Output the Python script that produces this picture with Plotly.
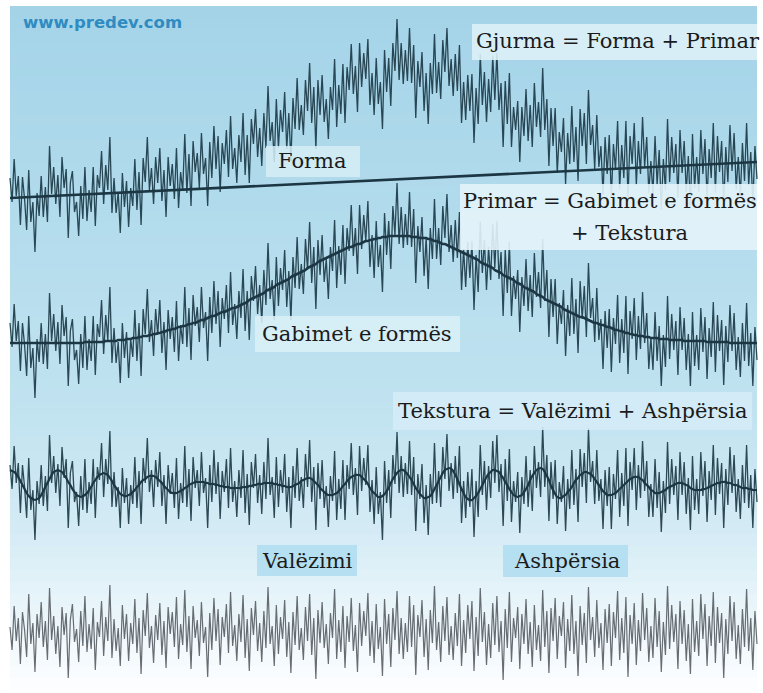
import plotly.graph_objects as go

W, H = 763, 693

# ---------------- data (pixel-like units, up = positive) ----------------
N = 360
sample = list(range(N))

# Forma: slow straight trend of the whole profile
form = [
    0, 0, 0, 0, 0, 1, 1, 1, 1, 1,   1, 1, 1, 1, 1, 2, 2, 2, 2, 2,
    2, 2, 2, 2, 2, 3, 3, 3, 3, 3,   3, 3, 3, 3, 3, 4, 4, 4, 4, 4,
    4, 4, 4, 4, 4, 5, 5, 5, 5, 5,   5, 5, 5, 5, 5, 6, 6, 6, 6, 6,
    6, 6, 6, 6, 6, 7, 7, 7, 7, 7,   7, 7, 7, 7, 7, 8, 8, 8, 8, 8,
    8, 8, 8, 8, 8, 9, 9, 9, 9, 9,   9, 9, 9, 9, 9, 10, 10, 10, 10, 10,
    10, 10, 10, 10, 10, 11, 11, 11, 11, 11,   11, 11, 11, 11, 11, 12, 12, 12, 12, 12,
    12, 12, 12, 12, 12, 13, 13, 13, 13, 13,   13, 13, 13, 13, 13, 14, 14, 14, 14, 14,
    14, 14, 14, 14, 14, 15, 15, 15, 15, 15,   15, 15, 15, 15, 15, 16, 16, 16, 16, 16,
    16, 16, 16, 16, 16, 17, 17, 17, 17, 17,   17, 17, 17, 17, 17, 18, 18, 18, 18, 18,
    18, 18, 18, 18, 18, 19, 19, 19, 19, 19,   19, 19, 19, 19, 19, 20, 20, 20, 20, 20,
    20, 20, 20, 20, 20, 21, 21, 21, 21, 21,   21, 21, 21, 21, 21, 22, 22, 22, 22, 22,
    22, 22, 22, 22, 22, 23, 23, 23, 23, 23,   23, 23, 23, 23, 23, 24, 24, 24, 24, 24,
    24, 24, 24, 24, 24, 25, 25, 25, 25, 25,   25, 25, 25, 25, 25, 26, 26, 26, 26, 26,
    26, 26, 26, 26, 26, 27, 27, 27, 27, 27,   27, 27, 27, 27, 27, 28, 28, 28, 28, 28,
    28, 28, 28, 28, 28, 29, 29, 29, 29, 29,   29, 29, 29, 29, 29, 30, 30, 30, 30, 30,
    30, 30, 30, 30, 30, 31, 31, 31, 31, 31,   31, 31, 31, 31, 31, 32, 32, 32, 32, 32,
    32, 32, 32, 32, 32, 33, 33, 33, 33, 33,   33, 33, 33, 33, 33, 34, 34, 34, 34, 34,
    34, 34, 34, 34, 34, 35, 35, 35, 35, 35,   35, 35, 35, 35, 35, 36, 36, 36, 36, 36,
]

# Gabimet e formës: broad hump
form_error = [
    0, 0, 0, 0, 0, 0, 0, 0, 0, 0,
    0, 0, 0, 0, 0, 0, 0, 0, 0, 0,
    0, 0, 0, 0, 0, 0, 0, 0, 0, 0,
    0, 0, 0, 0, 0, 0, 1, 1, 1, 1,
    1, 1, 1, 1, 1, 1, 2, 2, 2, 2,
    2, 2, 3, 3, 3, 3, 4, 4, 4, 5,
    5, 5, 6, 6, 7, 7, 7, 8, 8, 9,
    9, 10, 10, 11, 11, 12, 13, 13, 14, 14,
    15, 16, 16, 17, 17, 18, 19, 19, 20, 20,
    21, 22, 23, 23, 24, 25, 26, 27, 27, 28,
    29, 30, 31, 31, 32, 33, 34, 35, 35, 36,
    37, 38, 39, 40, 41, 43, 44, 45, 46, 47,
    48, 49, 50, 52, 53, 54, 55, 56, 58, 59,
    60, 61, 62, 63, 64, 66, 67, 68, 69, 70,
    71, 72, 73, 75, 76, 77, 78, 79, 81, 82,
    83, 84, 85, 86, 87, 88, 89, 90, 91, 92,
    93, 94, 95, 96, 96, 97, 98, 99, 99, 100,
    101, 102, 102, 103, 103, 104, 104, 105, 105, 106,
    106, 106, 107, 107, 107, 107, 107, 107, 107, 107,
    107, 107, 107, 106, 106, 106, 106, 105, 105, 105,
    105, 104, 104, 103, 102, 102, 101, 100, 99, 99,
    98, 97, 96, 95, 94, 93, 92, 91, 90, 89,
    88, 87, 86, 85, 84, 83, 81, 80, 79, 78,
    77, 76, 75, 73, 72, 71, 70, 68, 67, 66,
    65, 64, 63, 61, 60, 59, 58, 56, 55, 54,
    53, 52, 51, 49, 48, 47, 46, 44, 43, 42,
    41, 40, 39, 38, 37, 36, 34, 33, 32, 31,
    30, 29, 28, 27, 26, 26, 25, 24, 23, 22,
    21, 20, 20, 19, 18, 18, 17, 16, 16, 15,
    14, 13, 13, 12, 12, 11, 10, 10, 9, 9,
    8, 8, 7, 7, 7, 6, 6, 6, 5, 5,
    5, 5, 4, 4, 4, 4, 4, 3, 3, 3,
    3, 3, 3, 3, 2, 2, 2, 2, 2, 2,
    2, 2, 2, 2, 2, 1, 1, 1, 1, 1,
    1, 1, 1, 1, 1, 1, 0, 0, 0, 0,
    0, 0, 0, 0, 0, 0, 0, 0, 0, 0,
]

# Valëzimi: waviness
waviness = [
    15, 14, 13, 11, 8, 4, 0, -4, -8, -11, -13, -14, -15,
    -14, -13, -10, -6, -2, 2, 6, 10, 13, 14, 15,
    14, 13, 10, 7, 3, 0, -4, -7, -10, -11, -12,
    -11, -10, -8, -5, -2, 2, 5, 8, 10, 11, 12,
    11, 10, 7, 4, 0, -3, -6, -9, -10, -11,
    -11, -10, -9, -7, -5, -2, 0, 3, 5, 6, 8, 9, 9,
    9, 8, 6, 4, 2, -1, -3, -5, -7, -8, -8,
    -8, -7, -6, -5, -3, -2, 0, 1, 2, 3, 3,
    3, 3, 3, 2, 2, 1, 1, 1, 0, 0, -1, -1, -2, -2, -2, -3, -3, -3,
    -3, -3, -3, -2, -2, -2, -1, -1, 0, 0, 1, 1, 1, 2, 2, 2,
    2, 2, 1, 1, 0, 0, -1, -1, -2, -2,
    -2, -1, 0, 1, 2, 4, 5, 6, 7,
    7, 6, 4, 2, 0, -3, -5, -7, -9, -10, -10,
    -10, -9, -8, -6, -4, -1, 1, 4, 6, 8, 9, 10, 10,
    10, 8, 6, 4, 1, -3, -6, -8, -10, -12, -12,
    -11, -9, -6, -3, 2, 6, 9, 12, 14, 15,
    15, 13, 11, 8, 5, 1, -3, -6, -9, -11, -13, -13,
    -12, -11, -8, -4, 0, 4, 8, 12, 15, 16, 17,
    16, 14, 10, 6, 1, -4, -8, -12, -14, -15,
    -15, -13, -11, -8, -4, 0, 4, 8, 11, 13, 15, 15,
    14, 13, 10, 7, 3, 0, -4, -7, -10, -11, -12,
    -11, -10, -7, -4, 0, 5, 9, 12, 15, 16, 17,
    16, 13, 9, 5, -1, -5, -9, -12, -13,
    -13, -11, -10, -7, -5, -2, 2, 5, 7, 10, 11, 13, 13,
    12, 11, 9, 6, 3, 0, -3, -6, -8, -10, -10,
    -10, -9, -8, -6, -4, -2, 0, 2, 4, 6, 7, 8, 8,
    8, 6, 5, 2, 0, -2, -5, -6, -8, -8,
    -8, -7, -6, -5, -3, -2, -1, 0, 1, 2, 2,
    2, 1, 0, -1, -3, -4, -5, -5,
    -5, -5, -4, -4, -3, -2, -1, 0, 1, 2, 2, 3, 3,
    3, 2, 2, 1, 0, 0, -1, -2, -3, -3,
    -3, -4, -4, -5, -5, -5,
]

# Ashpërsia: roughness
roughness = [
    5, -18, 26, -9, 14, -32, 20, 2, -25, 38,
    -12, 9, -40, 18, -6, 30, -15, 11, -28, 44,
    -8, 16, -22, 6, -35, 25, -3, 19, -46, 12,
    28, -10, 3, -30, 21, -14, 36, -20, 8, -17,
    24, -38, 10, -5, 31, -24, 15, -9, 47, -26,
    13, -19, 4, -34, 27, -7, 18, -29, 9, -12,
    33, -21, 14, -42, 22, -4, 39, -16, 6, -31,
    17, -8, 29, -23, 11, -36, 25, -2, 20, -15,
    35, -27, 8, -13, 42, -20, 16, -37, 26, -6,
    12, -24, 30, -11, 5, -45, 19, -18, 34, -9,
    23, -33, 15, -5, 28, -21, 40, -14, 7, -29,
    18, -10, 37, -26, 13, -39, 24, -3, 31, -19,
    9, -30, 21, -16, 45, -12, 6, -34, 27, -22,
    15, -7, 32, -25, 10, -41, 20, -13, 36, -18,
    4, -28, 25, -9, 38, -23, 14, -47, 22, -11,
    30, -16, 8, -32, 19, -6, 43, -27, 12, -20,
    26, -36, 16, -10, 34, -19, 7, -40, 29, -14,
    21, -4, 39, -24, 11, -31, 28, -17, 5, -44,
    33, -12, 18, -35, 24, -8, 41, -22, 14, -27,
    9, -20, 36, -15, 27, -43, 17, -5, 32, -25,
    13, -38, 22, -11, 46, -18, 10, -30, 26, -9,
    35, -23, 6, -28, 19, -14, 38, -34, 12, -21,
    27, -7, 31, -39, 15, -24, 44, -10, 20, -33,
    8, -26, 29, -13, 36, -20, 11, -48, 23, -16,
    40, -30, 14, -6, 25, -37, 18, -12, 33, -22,
    10, -35, 27, -18, 7, -29, 42, -15, 21, -41,
    24, -9, 34, -27, 16, -4, 30, -36, 13, -19,
    37, -22, 11, -44, 26, -13, 19, -31, 45, -8,
    15, -25, 32, -16, 9, -38, 23, -11, 28, -34,
    20, -6, 41, -28, 14, -21, 35, -45, 17, -12,
    29, -33, 12, -19, 39, -8, 24, -30, 6, -26,
    34, -15, 21, -40, 10, -23, 46, -17, 27, -10,
    18, -37, 31, -12, 22, -29, 8, -42, 33, -20,
    11, -24, 38, -7, 28, -34, 16, -14, 40, -31,
    25, -11, 19, -46, 13, -22, 36, -9, 30, -27,
    7, -32, 23, -15, 43, -19, 14, -38, 21, -12,
]

labels = {
    "total": "Gjurma = Forma + Primar",
    "form": "Forma",
    "primary_1": "Primar = Gabimet e formës",
    "primary_2": "+ Tekstura",
    "form_error": "Gabimet e formës",
    "texture": "Tekstura = Valëzimi + Ashpërsia",
    "waviness": "Valëzimi",
    "roughness": "Ashpërsia",
}
watermark = "www.predev.com"

lens = (len(form), len(form_error), len(waviness), len(roughness))
assert all(n == N for n in lens), lens

# composition of the profile
texture = [w + r for w, r in zip(waviness, roughness)]
primary = [fe + t for fe, t in zip(form_error, texture)]
total = [f + p for f, p in zip(form, primary)]

# ---------------- figure ----------------
NOISE = "rgba(26,54,68,0.9)"
NOISE_GREY = "rgba(78,84,90,0.85)"
SMOOTH = "#1c3644"
NW = 1.3

fig = go.Figure()
fig.add_trace(go.Scatter(x=sample, y=total, mode="lines", yaxis="y",
                         line=dict(color=NOISE, width=NW)))
fig.add_trace(go.Scatter(x=[sample[0], sample[-1]], y=[form[0], form[-1]], mode="lines",
                         yaxis="y", line=dict(color=SMOOTH, width=2.6)))
fig.add_trace(go.Scatter(x=sample, y=primary, mode="lines", yaxis="y2",
                         line=dict(color=NOISE, width=NW)))
fig.add_trace(go.Scatter(x=sample, y=form_error, mode="lines", yaxis="y2",
                         line=dict(color=SMOOTH, width=2.6, shape="spline")))
fig.add_trace(go.Scatter(x=sample, y=texture, mode="lines", yaxis="y3",
                         line=dict(color=NOISE, width=NW)))
fig.add_trace(go.Scatter(x=sample, y=waviness, mode="lines", yaxis="y3",
                         line=dict(color=SMOOTH, width=2.2, shape="spline")))
fig.add_trace(go.Scatter(x=sample, y=roughness, mode="lines", yaxis="y4",
                         line=dict(color=NOISE_GREY, width=1.2)))

# row baselines in pixels from top
row_base = [198, 343, 485, 632]


def yax(base, overlay=None):
    d = dict(range=[base - H, base], visible=False, fixedrange=True, domain=[0, 1])
    if overlay:
        d["overlaying"] = overlay
    return d


# gradient background (decoration)
stops = [(6, (164, 211, 232)), (200, (177, 219, 236)), (420, (194, 227, 240)),
         (530, (212, 235, 245)), (610, (234, 245, 250)), (693, (253, 254, 255))]


def col_at(py):
    for (p0, c0), (p1, c1) in zip(stops[:-1], stops[1:]):
        if p0 <= py <= p1:
            t = (py - p0) / (p1 - p0)
            return "rgb(%d,%d,%d)" % tuple(round(a + (b - a) * t) for a, b in zip(c0, c1))
    return "rgb(%d,%d,%d)" % stops[-1][1]


shapes = []
band = 12
py = 6
while py < H:
    shapes.append(dict(type="rect", xref="paper", yref="paper", layer="below",
                       x0=10 / W, x1=757 / W, y0=1 - min(py + band + 1, H) / H, y1=1 - py / H,
                       line=dict(width=0), fillcolor=col_at(py + band / 2)))
    py += band


def box(x0, y0, x1, y1, fill):
    shapes.append(dict(type="rect", xref="paper", yref="paper", layer="above",
                       x0=x0 / W, x1=x1 / W, y0=1 - y1 / H, y1=1 - y0 / H,
                       line=dict(width=0), fillcolor=fill))


box(472, 24, 757, 60, "rgba(222,241,248,0.88)")
box(266, 146, 360, 177, "rgba(214,237,246,0.85)")
box(460, 184, 757, 250, "rgba(228,243,249,0.9)")
box(255, 316, 460, 352, "rgba(218,239,247,0.88)")
box(393, 392, 752, 430, "rgba(212,236,246,0.88)")
box(257, 545, 357, 576, "rgba(178,222,240,0.92)")
box(503, 545, 628, 577, "rgba(178,222,240,0.92)")

SERIF = dict(family="DejaVu Serif", size=21, color="#1b1b1b")


def txt(t, cx, cy, font=SERIF, xanchor="center"):
    return dict(text=t, x=cx / W, y=1 - cy / H, xref="paper", yref="paper",
                showarrow=False, font=font, xanchor=xanchor, yanchor="middle")


annotations = [
    txt(labels["total"], 618, 41),
    txt(labels["form"], 312, 161),
    txt(labels["primary_1"], 610, 201),
    txt(labels["primary_2"], 629, 233),
    txt(labels["form_error"], 357, 334),
    txt(labels["texture"], 572, 411),
    txt(labels["waviness"], 307, 561),
    txt(labels["roughness"], 567, 561),
    txt(watermark, 21, 22, font=dict(family="DejaVu Sans", size=16.5, color="#2f8bc0", weight="bold"),
        xanchor="left"),
]

fig.update_layout(
    width=W, height=H,
    margin=dict(l=0, r=0, t=0, b=0),
    paper_bgcolor="white", plot_bgcolor="rgba(0,0,0,0)",
    showlegend=False,
    xaxis=dict(range=[-10 * (N - 1) / 747, (N - 1) + 6 * (N - 1) / 747],
               visible=False, fixedrange=True),
    yaxis=yax(row_base[0]),
    yaxis2=yax(row_base[1], "y"),
    yaxis3=yax(row_base[2], "y"),
    yaxis4=yax(row_base[3], "y"),
    shapes=shapes,
    annotations=annotations,
)

fig.write_html("out.html", config={"displayModeBar": False},
               post_script="document.body.style.margin='0';document.body.style.overflow='hidden';")
